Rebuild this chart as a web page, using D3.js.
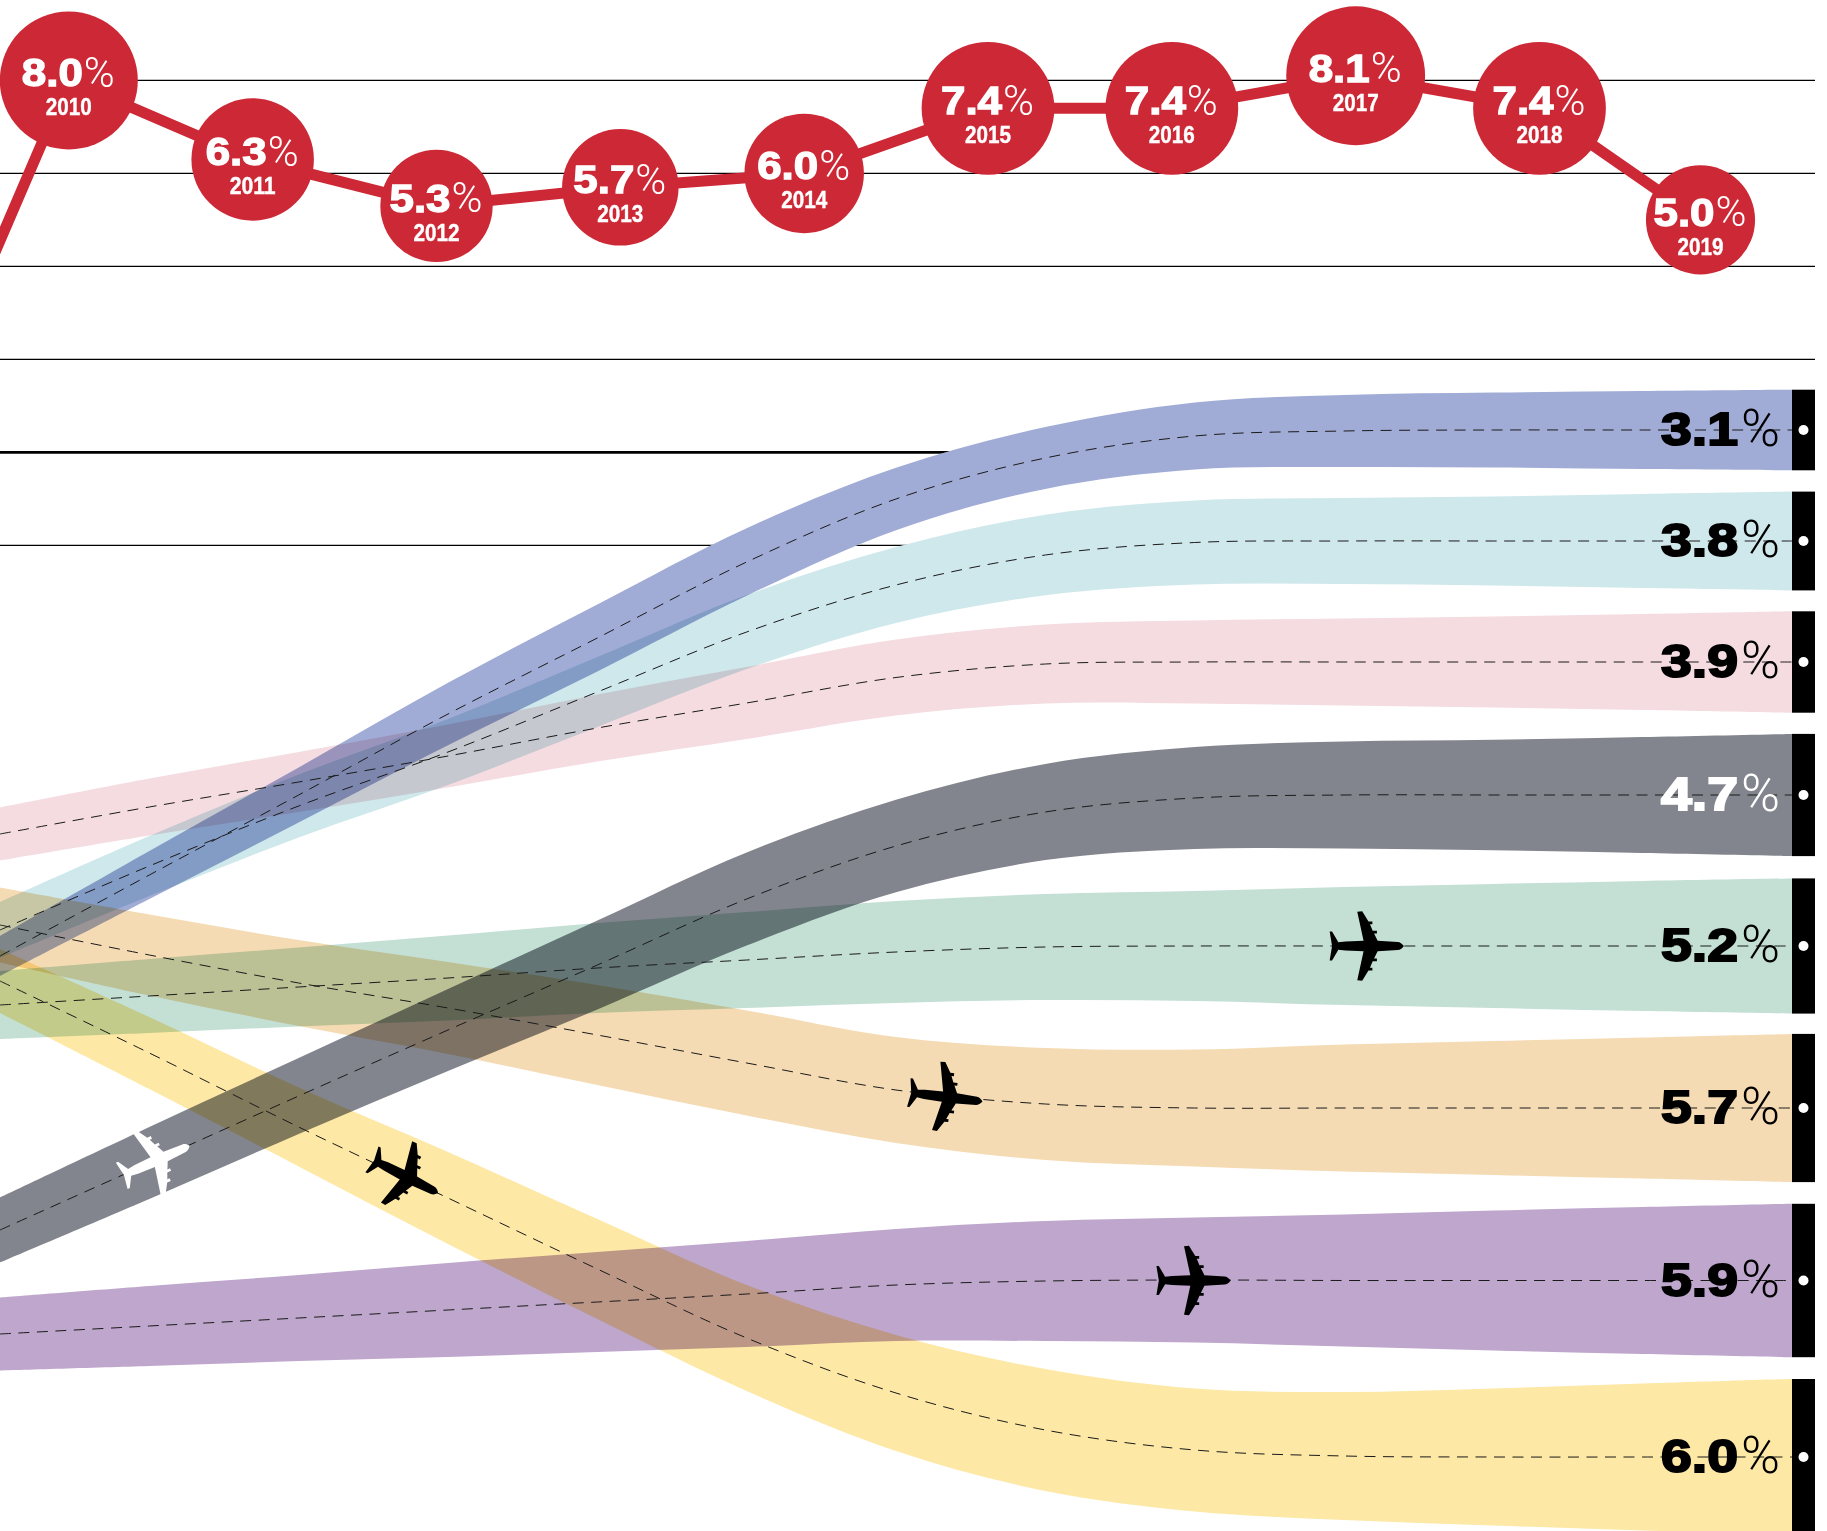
<!DOCTYPE html>
<html>
<head>
<meta charset="utf-8">
<script src="https://cdn.jsdelivr.net/npm/d3@7/dist/d3.min.js"></script>
<style>
  html, body { margin: 0; padding: 0; background: #fff; overflow: hidden; }
  svg { display: block; isolation: isolate; }
  .band { mix-blend-mode: multiply; }
</style>
</head>
<body>
<svg id="chart" width="1827" height="1531"></svg>
<script>
// Annual growth series
const years = [2009, 2010, 2011, 2012, 2013, 2014, 2015, 2016, 2017, 2018, 2019];
const growth = [-1.2, 8.0, 6.3, 5.3, 5.7, 6.0, 7.4, 7.4, 8.1, 7.4, 5.0];
const gridValues = [8, 6, 4, 2, 0, -2];

// Regional ribbons, ordered top to bottom at the right edge.
// Lanes are vertical positions along the ribbon; widths are growth rates along it.
const regionRates = ["3.1", "3.8", "3.9", "4.7", "5.2", "5.7", "5.9", "6.0"];
const regionColors = ["#a1acd6", "#cfe8eb", "#f4dce1", "#82858d", "#c4e0d5", "#f5dbb3", "#bea6cd", "#fde8a5"];
const labelColors = ["#000", "#000", "#000", "#fff", "#000", "#000", "#000", "#000"];

const laneBlue = [95.6, 87.5, 79.5, 71.4, 63.8, 56.2, 49.9, 45.8, 43.6, 43.1, 43, 43, 43];
const laneTeal = [93, 86.6, 80.6, 75.2, 69.2, 63.2, 58.5, 55.5, 54.25, 54.1, 54.1, 54.1, 54.1];
const lanePink = [83.4, 80.7, 78.2, 75.6, 72.8, 70.3, 67.75, 66.4, 66.2, 66.2, 66.2, 66.2, 66.2];
const laneGrey = [123, 116.3, 109.6, 103, 96.5, 89.9, 84.6, 81.2, 79.8, 79.5, 79.5, 79.5, 79.5];
const laneGreen = [100.5, 99.6, 98.7, 97.8, 96.8, 96, 95.2, 94.7, 94.6, 94.6, 94.6, 94.6, 94.6];
const laneOrange = [92.5, 95.5, 98.3, 100.8, 103.5, 106.3, 109, 110.4, 110.8, 110.8, 110.8, 110.8, 110.8];
const lanePurple = [133.4, 132.6, 131.8, 131, 130.2, 129.4, 128.5, 128.1, 128, 128.05, 128.05, 128.05, 128.05];
const laneYellow = [98.1, 105.3, 112.7, 119.8, 126.9, 133.8, 139.3, 143, 145, 145.6, 145.7, 145.7, 145.7];

const rateBlue = [1.54, 1.85, 2.12, 2.4, 2.58, 2.6, 2.4, 2.38, 2.58, 2.77, 2.88, 3.0, 3.1];
const rateTeal = [2.15, 2.31, 2.42, 2.54, 2.69, 2.85, 2.92, 3.1, 3.23, 3.3, 3.42, 3.62, 3.8];
const ratePink = [2.04, 2.19, 2.31, 2.42, 2.58, 2.77, 2.92, 3.04, 3.19, 3.35, 3.5, 3.69, 3.9];
const rateGrey = [2.5, 2.77, 2.92, 3.15, 3.42, 3.58, 3.55, 3.7, 3.92, 4.12, 4.25, 4.46, 4.7];
const rateGreen = [2.62, 2.85, 3.04, 3.27, 3.46, 3.69, 3.92, 4.08, 4.23, 4.54, 4.77, 5.0, 5.2];
const rateOrange = [2.88, 3.12, 3.31, 3.54, 3.85, 4.04, 4.08, 4.31, 4.5, 4.88, 5.15, 5.42, 5.7];
const ratePurple = [2.81, 3.08, 3.31, 3.62, 3.85, 4.08, 4.31, 4.62, 4.81, 5.08, 5.38, 5.65, 5.9];
const rateYellow = [2.46, 2.77, 3.04, 3.54, 3.85, 4.08, 4.46, 4.69, 4.73, 4.92, 5.27, 5.65, 6.0];

const lanes = [laneBlue, laneTeal, lanePink, laneGrey, laneGreen, laneOrange, lanePurple, laneYellow];
const rates = [rateBlue, rateTeal, ratePink, rateGrey, rateGreen, rateOrange, ratePurple, rateYellow];
const stages = d3.range(13);

// Aircraft: stage and lane along the ribbon, heading in degrees, fill
const planeStages = [9.15, 6.33, 7.99, 2.71, 1.04];
const planeLanes = [94.6, 109.7, 128.05, 117.6, 116.1];
const planeHeadings = [0, 7, 0, 27, -24];
const planeFills = ["#000", "#000", "#000", "#000", "#fff"];

const svg = d3.select("#chart");
const barLeft = 1792, barRight = 1815;

const xYear = d3.scaleLinear().domain([2009, 2018, 2019]).range([-115, 1539.5, 1700.5]);
const yGrowth = d3.scaleLinear().domain([0, 8]).range([452.4, 80.4]);
const radius = d3.scaleSqrt().domain([0, 8]).range([0, 69]);
const xStage = d3.scaleLinear().domain([0, 12]).range([0, barLeft]);
const yLane = d3.scaleLinear().domain([0, 153.1]).range([0, 1531]);
const bandWidth = d3.scaleLinear().domain([0, 1]).range([0, 26]);

svg.append("rect").attr("width", 1827).attr("height", 1531).attr("fill", "#fff");

// Horizontal rules of the growth chart
svg.append("g").selectAll("line").data(gridValues).join("line")
  .attr("x1", 0).attr("x2", barRight)
  .attr("y1", d => yGrowth(d)).attr("y2", d => yGrowth(d))
  .attr("stroke", "#000")
  .attr("stroke-width", d => d === 0 ? 2.7 : 1.2);

// Ribbons: each one sits on a white underlay so that the rules stop at its edge
const ribbon = i => d3.area()
  .x(s => xStage(s))
  .y0(s => yLane(lanes[i][s]) + bandWidth(rates[i][s]) / 2)
  .y1(s => yLane(lanes[i][s]) - bandWidth(rates[i][s]) / 2)
  .curve(d3.curveCatmullRom.alpha(0.5))(stages);

svg.append("g").selectAll("path").data(regionRates).join("path")
  .attr("d", (d, i) => ribbon(i)).attr("fill", "#fff");
svg.append("g").selectAll("path").data(regionRates).join("path")
  .attr("class", "band")
  .attr("d", (d, i) => ribbon(i))
  .attr("fill", (d, i) => regionColors[i]);

// Dashed centre lines
const centre = i => d3.line()
  .x(s => xStage(s))
  .y(s => yLane(lanes[i][s]))
  .curve(d3.curveCatmullRom.alpha(0.5))(stages);
svg.append("g").selectAll("path").data(regionRates).join("path")
  .attr("d", (d, i) => centre(i))
  .attr("fill", "none")
  .attr("stroke", "#1a1a1a")
  .attr("stroke-width", 1)
  .attr("stroke-dasharray", "11,7.5");

// End caps with a white dot on each ribbon's centre line
const last = stages.length - 1;
const caps = svg.append("g").selectAll("g").data(regionRates).join("g");
caps.append("rect")
  .attr("x", barLeft).attr("width", barRight - barLeft)
  .attr("y", (d, i) => yLane(lanes[i][last]) - bandWidth(rates[i][last]) / 2)
  .attr("height", (d, i) => bandWidth(rates[i][last]))
  .attr("fill", "#000");
caps.append("circle")
  .attr("cx", (barLeft + barRight) / 2)
  .attr("cy", (d, i) => yLane(lanes[i][last]))
  .attr("r", 5).attr("fill", "#fff");

// Value labels at the right of each ribbon
const boldFont = "'Liberation Sans', Arial, sans-serif";
const lightFont = "Roboto, 'Open Sans', sans-serif";
const endLabels = svg.append("g").selectAll("g").data(regionRates).join("g")
  .attr("transform", (d, i) => `translate(1661,${yLane(lanes[i][last]) + 15})`)
  .attr("fill", (d, i) => labelColors[i]);
endLabels.append("text")
  .text(d => d)
  .attr("font-family", boldFont).attr("font-weight", 700).attr("font-size", 47)
  .attr("stroke", (d, i) => labelColors[i]).attr("stroke-width", 2)
  .attr("textLength", 77).attr("lengthAdjust", "spacingAndGlyphs");
endLabels.append("text")
  .text("%")
  .attr("x", 80).attr("y", 1)
  .attr("font-family", lightFont).attr("font-weight", 300).attr("font-size", 52)
  .attr("textLength", 39).attr("lengthAdjust", "spacingAndGlyphs");

// Aircraft silhouette, nose to the right
const planeShape = "M35.7,0 C34,-2.5 32,-3.7 30,-3.9 L10.7,-5 L7.3,-12 L10,-12 L10,-14.6 L6,-14.6 L3.4,-20.6 L5.7,-20.6 L5.7,-23.4 L2,-23.4 L-4,-33 L-8.7,-32.7 L-2.7,-5 L-20,-4.4 L-26.7,-3.6 L-32.7,-13.7 L-35,-13.7 L-32.7,0 L-35,13.7 L-32.7,13.7 L-26.7,3.6 L-20,4.4 L-2.7,5 L-8.7,32.7 L-4,33 L2,23.4 L5.7,23.4 L5.7,20.6 L3.4,20.6 L6,14.6 L10,14.6 L10,12 L7.3,12 L10.7,5 L30,3.9 C32,3.7 34,2.5 35.7,0 Z";
svg.append("g").selectAll("path").data(planeStages).join("path")
  .attr("d", planeShape)
  .attr("fill", (d, i) => planeFills[i])
  .attr("transform", (d, i) =>
    `translate(${xStage(d)},${yLane(planeLanes[i])}) rotate(${planeHeadings[i]}) scale(1.05)`);

// Growth line with one bubble per year
const points = years.map((y, i) => ({ year: y, value: growth[i] }));
const red = "#cd2836";
svg.append("path")
  .attr("d", d3.line().x(d => xYear(d.year)).y(d => yGrowth(d.value))(points))
  .attr("fill", "none").attr("stroke", red).attr("stroke-width", 11);

const bubbles = svg.append("g").selectAll("g").data(points.slice(1)).join("g")
  .attr("transform", d => `translate(${xYear(d.year)},${yGrowth(d.value)})`);
bubbles.append("circle").attr("r", d => radius(d.value)).attr("fill", red);
bubbles.append("text")
  .text(d => d.value.toFixed(1))
  .attr("x", -47).attr("y", 6)
  .attr("fill", "#fff")
  .attr("font-family", boldFont).attr("font-weight", 700).attr("font-size", 38)
  .attr("stroke", "#fff").attr("stroke-width", 1.3)
  .attr("textLength", 61).attr("lengthAdjust", "spacingAndGlyphs");
bubbles.append("text")
  .text("%")
  .attr("x", 15).attr("y", 6.5)
  .attr("fill", "#fff")
  .attr("font-family", lightFont).attr("font-weight", 300).attr("font-size", 42)
  .attr("textLength", 31).attr("lengthAdjust", "spacingAndGlyphs");
bubbles.append("text")
  .text(d => d.year)
  .attr("y", 35)
  .attr("text-anchor", "middle")
  .attr("fill", "#fff")
  .attr("stroke", "#fff").attr("stroke-width", 0.4)
  .attr("font-family", boldFont).attr("font-weight", 700).attr("font-size", 24)
  .attr("textLength", 46).attr("lengthAdjust", "spacingAndGlyphs");
</script>
</body>
</html>
